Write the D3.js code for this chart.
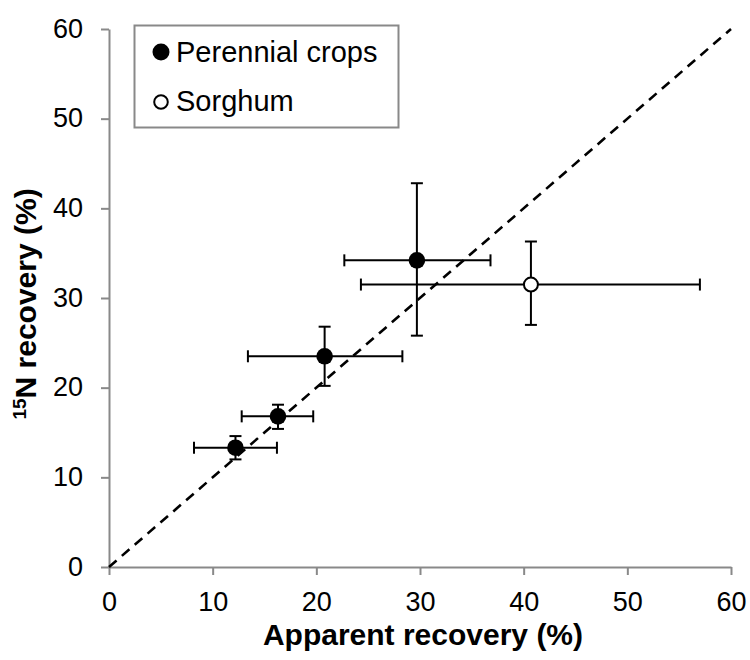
<!DOCTYPE html>
<html>
<head>
<meta charset="utf-8">
<script src="https://cdn.jsdelivr.net/npm/d3@7"></script>
<style>
  html, body { margin: 0; padding: 0; background: #fff; }
  text { font-family: "Liberation Sans", Arial, sans-serif; fill: #000; }
</style>
</head>
<body>
<svg id="chart" width="750" height="660"></svg>
<script>
// ---- data ----
const perennialX     = [12.2, 16.3, 20.8, 29.7];
const perennialY     = [13.3, 16.8, 23.5, 34.2];
const perennialXLow  = [8.2, 12.8, 13.4, 22.7];
const perennialXHigh = [16.2, 19.7, 28.3, 36.8];
const perennialYLow  = [12.0, 15.4, 20.2, 25.8];
const perennialYHigh = [14.6, 18.1, 26.8, 42.8];

const sorghumX     = [40.7];
const sorghumY     = [31.5];
const sorghumXLow  = [24.3];
const sorghumXHigh = [57.0];
const sorghumYLow  = [27.0];
const sorghumYHigh = [36.3];

const xTicks = [0, 10, 20, 30, 40, 50, 60];
const yTicks = [0, 10, 20, 30, 40, 50, 60];
const oneToOne = [0, 60];
const legendLabels = ["Perennial crops", "Sorghum"];

// ---- layout ----
const svg = d3.select("#chart");
svg.append("rect").attr("width", 750).attr("height", 660).attr("fill", "#fff");

const x = d3.scaleLinear().domain([0, 60]).range([109, 731]);
const y = d3.scaleLinear().domain([0, 60]).range([567, 29]);
const axisColor = "#898989";

// axes
const gx = svg.append("g").attr("transform", `translate(0,${y(0)})`)
  .call(d3.axisBottom(x).tickValues(xTicks).tickSize(8).tickSizeOuter(0).tickPadding(17));
const gy = svg.append("g").attr("transform", `translate(${x(0)},0)`)
  .call(d3.axisLeft(y).tickValues(yTicks).tickSize(8).tickSizeOuter(0).tickPadding(18));
[gx, gy].forEach(g => {
  g.select(".domain").attr("stroke", axisColor).attr("stroke-width", 2);
  g.selectAll(".tick line").attr("stroke", axisColor).attr("stroke-width", 2);
  g.selectAll(".tick text").attr("font-size", 27).attr("fill", "#000")
    .attr("font-family", "Liberation Sans, Arial, sans-serif");
});
gy.selectAll(".tick text").attr("dy", "0.3em");

// 1:1 dashed line
svg.append("line")
  .attr("x1", x(oneToOne[0])).attr("y1", y(oneToOne[0]))
  .attr("x2", x(oneToOne[1])).attr("y2", y(oneToOne[1]))
  .attr("stroke", "#000").attr("stroke-width", 2.6)
  .attr("stroke-dasharray", "10,7");

// build point records
function build(X, Y, XL, XH, YL, YH) {
  return X.map((v, i) => ({ x: v, y: Y[i], xl: XL[i], xh: XH[i], yl: YL[i], yh: YH[i] }));
}
const perennial = build(perennialX, perennialY, perennialXLow, perennialXHigh, perennialYLow, perennialYHigh);
const sorghum = build(sorghumX, sorghumY, sorghumXLow, sorghumXHigh, sorghumYLow, sorghumYHigh);

const cap = 6;
function drawErr(data) {
  const g = svg.append("g").attr("stroke", "#000").attr("stroke-width", 2);
  data.forEach(d => {
    // horizontal
    g.append("line").attr("x1", x(d.xl)).attr("x2", x(d.xh)).attr("y1", y(d.y)).attr("y2", y(d.y));
    g.append("line").attr("x1", x(d.xl)).attr("x2", x(d.xl)).attr("y1", y(d.y) - cap).attr("y2", y(d.y) + cap);
    g.append("line").attr("x1", x(d.xh)).attr("x2", x(d.xh)).attr("y1", y(d.y) - cap).attr("y2", y(d.y) + cap);
    // vertical
    g.append("line").attr("x1", x(d.x)).attr("x2", x(d.x)).attr("y1", y(d.yl)).attr("y2", y(d.yh));
    g.append("line").attr("x1", x(d.x) - cap).attr("x2", x(d.x) + cap).attr("y1", y(d.yl)).attr("y2", y(d.yl));
    g.append("line").attr("x1", x(d.x) - cap).attr("x2", x(d.x) + cap).attr("y1", y(d.yh)).attr("y2", y(d.yh));
  });
}
drawErr(perennial);
drawErr(sorghum);

svg.append("g").selectAll("circle").data(perennial).join("circle")
  .attr("cx", d => x(d.x)).attr("cy", d => y(d.y)).attr("r", 8.3).attr("fill", "#000");
svg.append("g").selectAll("circle").data(sorghum).join("circle")
  .attr("cx", d => x(d.x)).attr("cy", d => y(d.y)).attr("r", 7).attr("fill", "#fff")
  .attr("stroke", "#000").attr("stroke-width", 2);

// legend
const lg = svg.append("g");
lg.append("rect").attr("x", 134.5).attr("y", 25.5).attr("width", 264).attr("height", 102)
  .attr("fill", "#fff").attr("stroke", axisColor).attr("stroke-width", 2);
lg.append("circle").attr("cx", 161).attr("cy", 52).attr("r", 8.5).attr("fill", "#000");
lg.append("circle").attr("cx", 161).attr("cy", 102).attr("r", 6.8).attr("fill", "#fff")
  .attr("stroke", "#000").attr("stroke-width", 2);
lg.append("text").attr("x", 176).attr("y", 62).attr("font-size", 29).text(legendLabels[0]);
lg.append("text").attr("x", 176).attr("y", 111).attr("font-size", 29).text(legendLabels[1]);

// axis titles
svg.append("text").attr("x", 423).attr("y", 645).attr("text-anchor", "middle")
  .attr("font-size", 30).attr("font-weight", "bold").text("Apparent recovery (%)");

const yl = svg.append("text").attr("transform", "translate(36,304) rotate(-90)")
  .attr("text-anchor", "middle").attr("font-size", 30).attr("font-weight", "bold");
yl.append("tspan").attr("font-size", 19).attr("dy", -10).text("15");
yl.append("tspan").attr("dy", 10).text("N recovery (%)");
</script>
</body>
</html>
